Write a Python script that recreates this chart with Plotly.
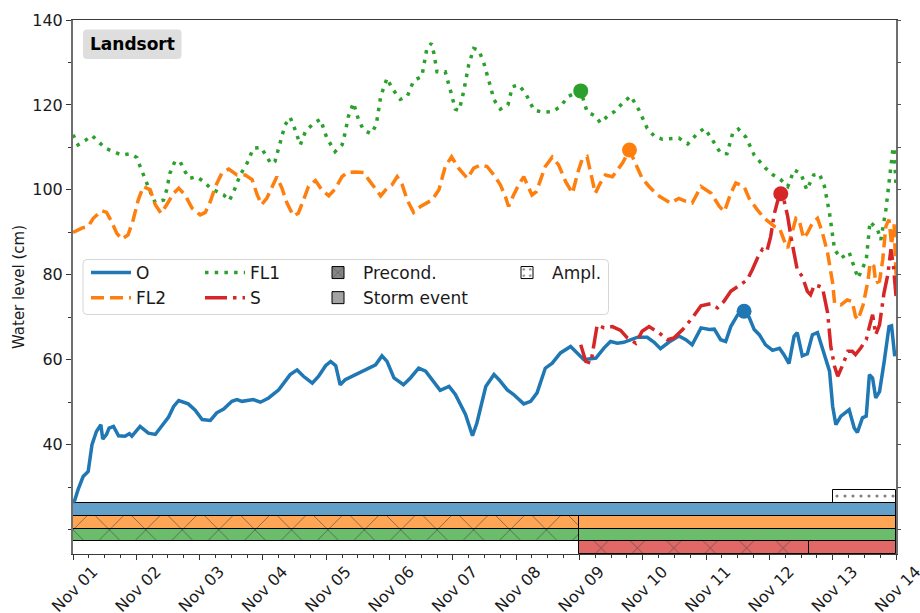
import pandas as pd
import plotly.graph_objects as go

# ---------------------------------------------------------------- data
T0 = pd.Timestamp("2023-11-01")
T_END = pd.Timestamp("2023-11-14")

# Observed (O) - time in days since Nov 01, water level in cm
o_days = [0.00, 0.03, 0.08, 0.16, 0.24, 0.30, 0.37, 0.44, 0.47, 0.53, 0.57, 0.64, 0.72, 0.82,
          0.89, 0.93, 1.06, 1.19, 1.30, 1.38, 1.51, 1.59, 1.67, 1.82, 1.93, 2.04, 2.17, 2.27,
          2.38, 2.51, 2.59, 2.67, 2.85, 2.96, 3.09, 3.25, 3.43, 3.54, 3.64, 3.78, 3.88, 3.99,
          4.07, 4.15, 4.22, 4.30, 4.41, 4.54, 4.64, 4.78, 4.88, 4.96, 5.07, 5.22, 5.33, 5.46,
          5.57, 5.80, 5.94, 6.04, 6.20, 6.31, 6.38, 6.52, 6.65, 6.73, 6.86, 6.96, 7.12, 7.23,
          7.33, 7.46, 7.57, 7.70, 7.86, 7.97, 8.07, 8.26, 8.39, 8.49, 8.60, 8.70, 8.81, 8.92,
          9.07, 9.18, 9.28, 9.41, 9.57, 9.68, 9.78, 9.92, 10.05, 10.13, 10.23, 10.31, 10.39,
          10.50, 10.60, 10.68, 10.76, 10.84, 10.94, 11.05, 11.16, 11.23, 11.31, 11.39, 11.44,
          11.52, 11.60, 11.68, 11.76, 11.84, 11.89, 11.95, 12.00, 12.05, 12.13, 12.26, 12.34,
          12.39, 12.47, 12.53, 12.58, 12.63, 12.68, 12.74, 12.81, 12.89, 12.93, 12.98]
o_vals = [26.3, 27.0, 29.4, 32.5, 33.7, 40.0, 43.1, 44.7, 41.3, 42.4, 43.9, 44.3, 42.1, 42.0,
          42.6, 42.0, 44.3, 42.7, 42.4, 43.9, 46.5, 49.0, 50.4, 49.6, 48.1, 45.9, 45.7, 47.5,
          48.4, 50.2, 50.6, 50.2, 50.6, 50.0, 51.0, 52.9, 56.5, 57.6, 56.1, 54.5, 56.1, 58.6,
          59.6, 58.6, 54.1, 55.3, 56.1, 56.9, 57.6, 58.8, 60.9, 59.6, 55.7, 54.1, 55.7, 58.0,
          57.3, 52.8, 53.7, 51.8, 47.1, 42.1, 45.1, 53.7, 56.5, 55.3, 52.9, 51.8, 49.6, 50.2,
          52.2, 58.0, 59.2, 61.6, 63.1, 61.4, 60.0, 60.4, 62.8, 64.3, 63.9, 64.1, 64.7, 65.3,
          65.3, 64.1, 62.6, 64.1, 65.6, 64.7, 63.5, 67.5, 67.1, 67.2, 64.7, 64.3, 67.8,
          70.6, 71.4, 70.0, 67.1, 65.9, 63.5, 62.2, 62.7, 61.2, 59.1, 65.5, 66.4,
          60.9, 61.4, 65.9, 66.4, 62.8, 60.0, 57.3, 49.0, 44.7, 46.7, 48.2, 43.9,
          42.9, 46.3, 46.7, 56.5, 55.7, 51.0, 52.5, 59.2, 67.8, 68.0, 60.8]

# Forecast lead 2 (FL2)
fl2_days = [0.00, 0.03, 0.14, 0.24, 0.32, 0.45, 0.53, 0.61, 0.69, 0.77, 0.87, 0.95, 1.03, 1.11,
            1.22, 1.30, 1.39, 1.48, 1.59, 1.67, 1.77, 1.88, 2.01, 2.09, 2.17, 2.25, 2.35, 2.46,
            2.59, 2.72, 2.83, 2.91, 2.98, 3.06, 3.14, 3.22, 3.30, 3.38, 3.48, 3.56, 3.64, 3.72,
            3.83, 3.93, 4.04, 4.14, 4.25, 4.33, 4.46, 4.59, 4.67, 4.78, 4.86, 4.96, 5.04, 5.12,
            5.20, 5.28, 5.38, 5.49, 5.67, 5.78, 5.88, 5.98, 6.09, 6.23, 6.33, 6.44, 6.54, 6.65,
            6.75, 6.83, 6.88, 6.96, 7.04, 7.12, 7.17, 7.25, 7.32, 7.39, 7.46, 7.57, 7.67, 7.78,
            7.89, 7.97, 8.04, 8.12, 8.18, 8.25, 8.33, 8.41, 8.52, 8.68, 8.79, 8.89, 8.99, 9.10,
            9.23, 9.44, 9.57, 9.68, 9.78, 9.92, 10.08, 10.21, 10.29, 10.39, 10.47, 10.60, 10.68,
            10.81, 10.92, 11.08, 11.16, 11.23, 11.29, 11.34, 11.42, 11.47, 11.54, 11.60, 11.68,
            11.76, 11.84, 11.92, 12.00, 12.03, 12.13, 12.23, 12.31, 12.36, 12.40, 12.48, 12.56,
            12.59, 12.65, 12.68, 12.74, 12.79, 12.84, 12.89, 12.93, 12.97, 13.00]
fl2_vals = [90.0, 90.2, 91.0, 91.4, 93.3, 95.1, 94.7, 92.5, 89.8, 88.4, 89.4, 92.9, 97.6, 100.8,
            100.0, 96.5, 94.5, 96.5, 99.2, 100.4, 98.8, 95.7, 94.1, 94.7, 97.3, 100.8, 103.9, 104.9,
            103.5, 103.5, 102.4, 98.8, 96.5, 98.0, 100.8, 103.1, 100.4, 96.9, 93.9, 94.5, 97.6, 100.8,
            102.2, 100.0, 98.6, 100.2, 103.1, 104.1, 104.2, 104.1, 102.4, 100.0, 98.6, 100.4, 101.2, 103.1,
            101.2, 97.6, 94.7, 96.1, 97.6, 100.0, 105.5, 107.8, 105.1, 102.7, 105.1, 105.9, 105.5, 103.5,
            101.2, 98.4, 96.1, 98.8, 101.2, 103.1, 101.6, 98.8, 99.6, 102.4, 105.5, 107.7, 105.9, 102.0,
            99.2, 103.9, 107.1, 107.8, 103.9, 99.2, 101.6, 103.5, 103.1, 106.3, 109.4, 105.9, 102.7, 100.8,
            98.8, 96.9, 98.0, 97.3, 96.9, 100.8, 99.2, 96.1, 94.9, 99.2, 101.6, 100.8, 98.0,
            95.3, 93.3, 91.4, 91.0, 88.2, 86.3, 89.0, 93.3, 92.9, 88.6, 89.8, 92.2,
            93.3, 89.8, 85.1, 78.0, 73.3, 72.9, 74.1, 73.7, 70.2, 69.4, 72.9, 78.8,
            82.7, 82.0, 78.0, 78.5, 83.5, 91.4, 93.0, 87.0, 92.0, 80.0]

# Forecast lead 1 (FL1)
fl1_days = [0.00, 0.08, 0.19, 0.30, 0.51, 0.64, 0.77, 0.90, 1.01, 1.06, 1.17, 1.24, 1.30, 1.43,
            1.48, 1.53, 1.61, 1.69, 1.77, 1.84, 1.95, 2.06, 2.17, 2.27, 2.38, 2.47, 2.54, 2.64,
            2.75, 2.85, 2.97, 3.06, 3.13, 3.19, 3.27, 3.35, 3.43, 3.50, 3.59, 3.67, 3.80, 3.91,
            4.01, 4.14, 4.25, 4.30, 4.35, 4.43, 4.51, 4.59, 4.71, 4.79, 4.86, 4.96, 5.04, 5.17,
            5.28, 5.38, 5.51, 5.59, 5.66, 5.70, 5.75, 5.88, 5.96, 6.04, 6.10, 6.17, 6.25, 6.33,
            6.41, 6.49, 6.58, 6.65, 6.75, 6.87, 6.94, 7.04, 7.15, 7.28, 7.41, 7.57, 7.70, 7.82,
            8.02, 8.12, 8.26, 8.33, 8.44, 8.55, 8.68, 8.81, 8.94, 9.07, 9.18, 9.31, 9.57, 9.71,
            9.84, 9.97, 10.07, 10.23, 10.33, 10.42, 10.51, 10.63, 10.76, 10.94, 11.06, 11.18,
            11.29, 11.39, 11.50, 11.59, 11.70, 11.79, 11.87, 11.95, 12.03, 12.13, 12.26, 12.34,
            12.40, 12.53, 12.59, 12.71, 12.76, 12.84, 12.89, 12.95, 12.97, 13.00]
fl1_vals = [113.0, 110.6, 111.6, 112.8, 109.8, 108.9, 108.2, 108.5, 107.6, 105.5, 101.2, 98.8, 97.0, 97.6,
            100.0, 103.9, 106.7, 106.7, 104.3, 102.7, 103.1, 102.0, 100.4, 99.6, 98.8, 97.5, 99.6, 103.5,
            106.3, 109.8, 110.0, 107.8, 106.1, 106.7, 111.0, 115.3, 117.1, 114.5, 110.6, 113.7, 115.7, 116.6,
            112.2, 109.0, 110.6, 113.5, 117.3, 120.5, 116.5, 114.1, 113.2, 115.3, 122.0, 126.3, 123.9, 121.3,
            122.0, 125.7, 126.7, 133.3, 134.5, 132.2, 127.8, 127.8, 123.5, 119.0, 118.7, 123.1, 129.4, 133.3,
            132.9, 129.8, 125.1, 121.2, 119.0, 120.0, 124.3, 124.7, 122.7, 118.8, 118.3, 118.4, 119.6, 122.0,
            123.3, 118.4, 117.3, 115.8, 117.3, 118.4, 120.4, 122.1, 118.8, 114.5, 112.7, 111.9, 112.2, 110.8,
            112.9, 114.5, 112.5, 108.6, 108.5, 113.3, 114.3, 112.4, 108.2, 105.1, 103.5, 102.4,
            100.8, 104.7, 103.8, 100.0, 103.5, 103.8, 100.8, 94.5, 85.9, 83.9, 85.3, 82.0,
            79.2, 83.5, 92.5, 90.6, 88.2, 95.3, 102.4, 109.4, 110.0, 101.0]

# Storm surge forecast (S)
s_days = [8.02, 8.10, 8.18, 8.28, 8.39, 8.52, 8.65, 8.76, 8.89, 8.99, 9.10, 9.26, 9.39, 9.49,
          9.63, 9.78, 9.92, 10.07, 10.18, 10.28, 10.39, 10.56, 10.65, 10.73, 10.81, 10.89, 10.96,
          11.02, 11.08, 11.13, 11.18, 11.23, 11.29, 11.34, 11.39, 11.44, 11.52, 11.60, 11.65,
          11.71, 11.79, 11.84, 11.92, 11.97, 12.03, 12.08, 12.16, 12.24, 12.31, 12.36, 12.44,
          12.53, 12.58, 12.63, 12.68, 12.74, 12.81, 12.87, 12.92, 12.96, 13.00]
s_vals = [63.5, 59.6, 59.2, 68.2, 67.5, 67.8, 66.9, 65.1, 63.9, 66.7, 67.8, 66.3, 64.7, 65.1,
          67.1, 69.8, 72.7, 73.2, 72.2, 73.7, 76.1, 78.0, 78.8, 81.2, 83.9, 86.0, 85.5,
          89.0, 94.5, 97.3, 99.1, 97.6, 93.7, 89.0, 85.1, 81.2, 79.6, 76.1, 75.3,
          77.6, 77.3, 76.9, 71.0, 63.1, 58.4, 56.1, 58.8, 62.0, 62.0, 61.2, 62.7,
          64.7, 67.8, 70.6, 65.9, 68.2, 75.7, 80.0, 86.0, 82.0, 75.0]

# Peak of each series (day, level)
peak_days = {"O": 10.60, "FL2": 8.79, "FL1": 8.02, "S": 11.18}
peak_vals = {"O": 71.4, "FL2": 109.4, "FL1": 123.3, "S": 99.1}

# Event windows per series: preconditioning and storm event
band_names = ["S", "FL1", "FL2", "O"]
precond_windows = [("2023-11-09 00:00", "2023-11-12 15:00"),
                   ("2023-11-01 00:00", "2023-11-09 00:00"),
                   ("2023-11-01 00:00", "2023-11-09 00:00"),
                   None]
storm_windows = [("2023-11-12 15:00", "2023-11-14 00:00"),
                 ("2023-11-09 00:00", "2023-11-14 00:00"),
                 ("2023-11-09 00:00", "2023-11-14 00:00"),
                 ("2023-11-01 00:00", "2023-11-14 00:00")]
ampl_window = ("2023-11-13 00:00", "2023-11-14 00:00")

# ---------------------------------------------------------------- style
COL = {"O": "#1f77b4", "FL2": "#ff7f0e", "FL1": "#2ca02c", "S": "#d62728"}
BAND_COL = {"O": "#62a0ca", "FL2": "#ffa556", "FL1": "#6bbc6b", "S": "#e26868"}
DASH = {"O": "solid", "FL2": "13px,6px", "FL1": "3.5px,6.2px", "S": "22px,6px,3.5px,6px"}
FONT = "DejaVu Sans"

Y_MIN, Y_MAX = 14.25, 140
BAND_H = 3.0


def to_time(days):
    return [T0 + pd.Timedelta(days=d) for d in days]


def ms(a, b):
    return (pd.Timestamp(b) - pd.Timestamp(a)).total_seconds() * 1000


fig = go.Figure()

HATCH = dict(shape="x", fgcolor="#404040", fgopacity=0.9, size=25.75, solidity=0.05, fillmode="overlay")

# event bands along the bottom
for i, name in enumerate(band_names):
    yc = Y_MIN + BAND_H * (i + 0.5)
    pw = precond_windows[i]
    if pw is not None:
        fig.add_trace(go.Bar(orientation="h", y=[yc], x=[ms(*pw)], base=[pw[0]], width=[BAND_H],
                             marker=dict(color=BAND_COL[name], line=dict(color="black", width=1),
                                         pattern=HATCH),
                             showlegend=False, hoverinfo="skip"))
    sw = storm_windows[i]
    fig.add_trace(go.Bar(orientation="h", y=[yc], x=[ms(*sw)], base=[sw[0]], width=[BAND_H],
                         marker=dict(color=BAND_COL[name], line=dict(color="black", width=1)),
                         showlegend=False, hoverinfo="skip"))

# amplification window (on the mirrored right axis)
fig.add_trace(go.Bar(orientation="h", y=[Y_MIN + BAND_H * 4.5], x=[ms(*ampl_window)], base=[ampl_window[0]],
                     width=[BAND_H], yaxis="y2", name="Ampl.", legend="legend4",
                     marker=dict(color="white", line=dict(color="black", width=1),
                                 pattern=dict(shape=".", fgcolor="black", size=8, solidity=0.12,
                                              fillmode="overlay")),
                     hoverinfo="skip"))

# water level series
series = [("O", o_days, o_vals, "legend"), ("FL2", fl2_days, fl2_vals, "legend"),
          ("FL1", fl1_days, fl1_vals, "legend2"), ("S", s_days, s_vals, "legend2")]
order = ["O", "FL1", "FL2", "S"]
for name, d, v, lg in sorted(series, key=lambda s: order.index(s[0])):
    fig.add_trace(go.Scatter(x=to_time(d), y=v, mode="lines", name=name, legend=lg,
                             legendrank={"O": 1, "FL2": 2, "FL1": 1, "S": 2}[name],
                             line=dict(color=COL[name], width=3.5, dash=DASH[name])))

# peak markers
for name in ["O", "FL2", "FL1", "S"]:
    fig.add_trace(go.Scatter(x=to_time([peak_days[name]]), y=[peak_vals[name]], mode="markers",
                             marker=dict(color=COL[name], size=15), showlegend=False))

# legend entries for the band hatches
fig.add_trace(go.Bar(x=[None], y=[None], name="Precond.", legend="legend3",
                     marker=dict(color="#858585", line=dict(color="black", width=1),
                                 pattern=dict(shape="x", fgcolor="black", size=10, solidity=0.1,
                                              fillmode="overlay"))))
fig.add_trace(go.Bar(x=[None], y=[None], name="Storm event", legend="legend3",
                     marker=dict(color="#a3a3a3", line=dict(color="black", width=1))))

# ---------------------------------------------------------------- layout
W, H = 920, 613
ML, MR, MT, MB = 73, 24, 20, 59
PW, PH = W - ML - MR, H - MT - MB


def px_x(px):
    return (px - ML) / PW


def px_y(py):
    return 1 - (py - MT) / PH


legend_common = dict(bgcolor="rgba(0,0,0,0)", borderwidth=0, font=dict(family=FONT, size=17, color="#1a1a1a"),
                     xanchor="left", yanchor="top", orientation="v", itemwidth=40, tracegroupgap=0,
                     itemclick=False, itemdoubleclick=False)
ly = px_y(255)

fig.update_layout(
    width=W, height=H,
    margin=dict(l=ML, r=MR, t=MT, b=MB, pad=0),
    paper_bgcolor="white", plot_bgcolor="white",
    barmode="overlay", bargap=0,
    font=dict(family=FONT, size=16, color="#1a1a1a"),
    xaxis=dict(type="date", range=[T0, T_END], tickformat="%b %d", dtick=86400000, tick0=T0,
               tickangle=-45, tickfont=dict(size=16), ticks="outside", ticklen=5, tickcolor="#333",
               ticklabelshift=20, ticklabelstandoff=-4, ticklabeloverflow="allow",
               minor=dict(dtick=6 * 3600 * 1000, ticks="outside", ticklen=3, tickcolor="#333"),
               showline=True, linecolor="#3a3a3a", linewidth=1, mirror=True,
               showgrid=False, zeroline=False, automargin=False),
    yaxis=dict(range=[Y_MIN, Y_MAX], tickmode="array", tickvals=[40, 60, 80, 100, 120, 140],
               ticks="outside", ticklen=5, tickcolor="#333", tickfont=dict(size=16),
               minor=dict(tickmode="linear", tick0=0, dtick=10, ticks="outside", ticklen=3, tickcolor="#333"),
               showline=True, linecolor="#6e6e6e", linewidth=2, mirror=True,
               showgrid=False, zeroline=False, automargin=False,
               title=dict(text="Water level (cm)", font=dict(size=15), standoff=4)),
    yaxis2=dict(range=[Y_MIN, Y_MAX], overlaying="y", side="right", tickmode="linear", tick0=0, dtick=10,
                ticks="outside", ticklen=4, tickcolor="#555", showticklabels=False, showline=False,
                showgrid=False, zeroline=False, automargin=False),
    legend=dict(x=px_x(86), y=ly, **legend_common),
    legend2=dict(x=px_x(200), y=ly, **legend_common),
    legend3=dict(x=px_x(313), y=ly, **legend_common),
    legend4=dict(x=px_x(502), y=ly, **legend_common),
    showlegend=True,
)


def rounded_rect(x0, y0, x1, y1, r=4):
    # rounded rectangle path in paper coordinates from pixel corners
    ax0, ax1 = px_x(x0), px_x(x1)
    ay0, ay1 = px_y(y1), px_y(y0)
    rx, ry = r / PW, r / PH
    return (f"M{ax0 + rx},{ay1} L{ax1 - rx},{ay1} Q{ax1},{ay1} {ax1},{ay1 - ry} "
            f"L{ax1},{ay0 + ry} Q{ax1},{ay0} {ax1 - rx},{ay0} L{ax0 + rx},{ay0} "
            f"Q{ax0},{ay0} {ax0},{ay0 + ry} L{ax0},{ay1 - ry} Q{ax0},{ay1} {ax0 + rx},{ay1} Z")


# legend frame
fig.add_shape(type="path", path=rounded_rect(83, 259.5, 608.5, 314.5), xref="paper", yref="paper",
              fillcolor="rgba(255,255,255,0.85)", line=dict(color="#d6d6d6", width=1), layer="above")
# station label box
fig.add_shape(type="path", path=rounded_rect(83, 29.5, 181.5, 59), xref="paper", yref="paper",
              fillcolor="#dedede", line=dict(width=0), layer="above")
fig.add_annotation(text="<b>Landsort</b>", xref="paper", yref="paper", x=px_x(132.2), y=px_y(44.2),
                   xanchor="center", yanchor="middle", showarrow=False,
                   font=dict(family=FONT, size=17, color="black"))

fig.write_html("out.html")
